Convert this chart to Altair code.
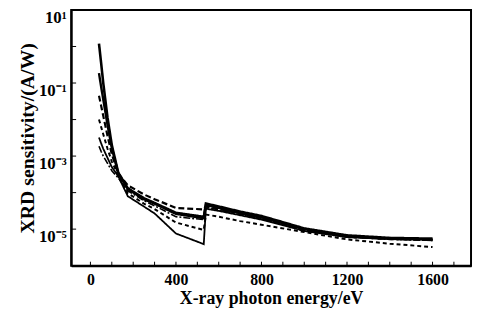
import altair as alt
import pandas as pd

# photon energies (eV) before and after the O K-edge jump
energy_pre = [40, 50, 60, 80, 100, 130, 175, 250, 300, 400, 530]
energy_post = [540, 600, 700, 800, 1000, 1200, 1400, 1600]

# log10 of XRD sensitivity (A/W), one list per curve
c1_pre = [0.08, -0.45, -1.0, -1.95, -2.7, -3.45, -3.9, -4.18, -4.30, -4.58, -4.70]
c1_post = [-4.30, -4.38, -4.52, -4.64, -4.98, -5.17, -5.24, -5.26]
c2_pre = [-0.73, -1.1, -1.45, -2.15, -2.78, -3.47, -3.88, -4.15, -4.28, -4.55, -4.66]
c2_post = [-4.34, -4.42, -4.56, -4.68, -5.0, -5.19, -5.26, -5.28]
c3_pre = [-1.35, -1.62, -1.9, -2.45, -2.95, -3.48, -3.8, -4.05, -4.18, -4.42, -4.46]
c3_post = [-4.38, -4.45, -4.58, -4.70, -5.03, -5.21, -5.27, -5.30]
c4_pre = [-2.0, -2.2, -2.4, -2.8, -3.15, -3.52, -4.02, -4.3, -4.45, -4.82, -5.02]
c4_post = [-4.60, -4.66, -4.78, -4.88, -5.08, -5.28, -5.40, -5.49]
c5_pre = [-2.49, -2.65, -2.8, -3.05, -3.3, -3.55, -4.1, -4.38, -4.57, -5.12, -5.41]
c5_post = [-4.44, -4.50, -4.62, -4.74, -5.05, -5.22, -5.27, -5.29]
c6_pre = [-2.73, -2.87, -3.0, -3.2, -3.4, -3.6, -3.95, -4.22, -4.36, -4.66, -4.74]
c6_post = [-4.40, -4.47, -4.60, -4.72, -5.04, -5.21, -5.28, -5.31]

curve_names = ["c1", "c2", "c3", "c4", "c5", "c6"]
curve_pre = [c1_pre, c2_pre, c3_pre, c4_pre, c5_pre, c6_pre]
curve_post = [c1_post, c2_post, c3_post, c4_post, c5_post, c6_post]
curve_dash = [[1, 0], [1, 0], [6, 3], [4, 3], [1, 0], [7, 2, 2, 2]]
curve_width = [2.6, 1.6, 1.3, 1.3, 1.3, 1.2]

x_tick_labels = [0, 400, 800, 1200, 1600]
y_tick_labels = [-5, -3, -1, 1]
x_minor = list(range(0, 1800, 100))
y_minor = [-5, -4, -3, -2, -1, 0]

rows = []
for name, pre, post in zip(curve_names, curve_pre, curve_post):
    for i, (e, v) in enumerate(zip(energy_pre + energy_post, pre + post)):
        rows.append({"curve": name, "energy": e, "logS": v, "order": i})
df = pd.DataFrame(rows)

FONT = "Liberation Serif"
XDOM = [-90, 1780]
YDOM = [-6, 1]

xs = alt.Scale(domain=XDOM, nice=False, zero=False)
ys = alt.Scale(domain=YDOM, nice=False, zero=False)

xaxis = alt.Axis(values=x_tick_labels, title="X-ray photon energy/eV", tickSize=0,
                 labelPadding=6, titlePadding=2, format="d",
                 labelFontSize=16, titleFontSize=18)
yaxis = alt.Axis(values=y_tick_labels, title="XRD sensitivity/(A/W)", tickSize=0,
                 labelPadding=5, titlePadding=1, labelOffset=8,
                 labelFontSize=17, titleFontSize=20,
                 labelExpr="datum.value == 1 ? '10¹' : datum.value == -1 ? '10⁻¹' : datum.value == -3 ? '10⁻³' : '10⁻⁵'")

lines = alt.Chart(df).mark_line(clip=True).encode(
    x=alt.X("energy:Q", scale=xs, axis=xaxis),
    y=alt.Y("logS:Q", scale=ys, axis=yaxis),
    detail="curve:N",
    order="order:Q",
    strokeDash=alt.StrokeDash("curve:N", scale=alt.Scale(domain=curve_names, range=curve_dash), legend=None),
    strokeWidth=alt.StrokeWidth("curve:N", scale=alt.Scale(domain=curve_names, range=curve_width), legend=None),
    color=alt.value("black"),
)

xt = alt.Chart(pd.DataFrame({"energy": x_minor})).mark_rule(color="black", strokeWidth=1, y2Offset=-4).encode(
    x=alt.X("energy:Q", scale=xs, axis=xaxis),
    y=alt.datum(YDOM[0]),
    y2=alt.datum(YDOM[0]),
)
yt = alt.Chart(pd.DataFrame({"logS": y_minor})).mark_rule(color="black", strokeWidth=1, x2Offset=5).encode(
    y=alt.Y("logS:Q", scale=ys, axis=yaxis),
    x=alt.datum(XDOM[0]),
    x2=alt.datum(XDOM[0]),
)

chart = alt.layer(lines, xt, yt).properties(
    width=405, height=259,
    autosize=alt.AutoSizeParams(type="none"),
    padding={"left": 64, "top": 0, "right": 2, "bottom": 50},
).configure_view(stroke="black", strokeWidth=2).configure_axis(
    domainColor="black", domainWidth=2, grid=False,
    labelFont=FONT, labelFontWeight="bold", labelColor="black",
    titleFont=FONT, titleFontWeight="bold", titleColor="black",
)

chart.save("out.html", embed_options={"renderer": "svg", "actions": False})
